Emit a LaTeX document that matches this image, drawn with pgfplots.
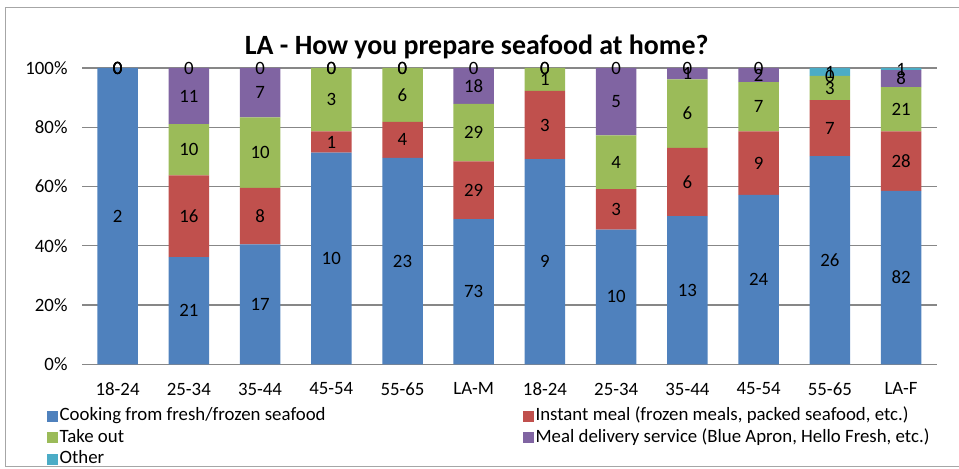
\documentclass[border=0pt]{standalone}
\usepackage{fontspec}
\setmainfont{Carlito}
\usepackage{pgfplots}
\usepackage{pgfplotstable}
\pgfplotsset{compat=1.18}
\definecolor{cBlue}{HTML}{4F81BD}
\definecolor{cRed}{HTML}{C0504D}
\definecolor{cGreen}{HTML}{9BBB59}
\definecolor{cPurple}{HTML}{8064A2}
\definecolor{cAqua}{HTML}{4BACC6}
\definecolor{cGrid}{HTML}{878787}
\definecolor{cBorder}{HTML}{A6A6A6}

% shares (%) of each answer per group
\pgfplotstableread{
x cook inst take deliv other
0 100 0 0 0 0
1 36.21 27.58 17.24 18.97 0
2 40.48 19.04 23.81 16.67 0
3 71.43 7.14 21.43 0 0
4 69.70 12.12 18.18 0 0
5 48.99 19.47 19.46 12.08 0
6 69.23 23.08 7.69 0 0
7 45.45 13.64 18.18 22.73 0
8 50 23.08 23.07 3.85 0
9 57.14 21.43 16.67 4.76 0
10 70.27 18.92 8.11 0 2.70
11 58.57 20 15 5.72 0.71
}\pct

% counts shown as labels, at the middle of each segment
\pgfplotstableread{
x y lab
0 50 2
0 100 0
0 100 0
0 100 0
0 100 0
1 18.10 21
1 50.00 16
1 72.41 10
1 90.52 11
1 100 0
2 20.24 17
2 50.00 8
2 71.43 10
2 91.67 7
2 100 0
3 35.71 10
3 75.00 1
3 89.29 3
3 100 0
3 100 0
4 34.85 23
4 75.76 4
4 90.91 6
4 100 0
4 100 0
5 24.50 73
5 58.72 29
5 78.19 29
5 93.96 18
5 100 0
6 34.62 9
6 80.77 3
6 96.15 1
6 100 0
6 100 0
7 22.73 10
7 52.27 3
7 68.18 4
7 88.64 5
7 100 0
8 25.00 13
8 61.54 6
8 84.62 6
8 98.08 1
8 100 0
9 28.57 24
9 67.86 9
9 86.90 7
9 97.62 2
9 100 0
10 35.14 26
10 79.73 7
10 93.24 3
10 97.30 0
10 98.65 1
11 29.29 82
11 68.57 28
11 86.07 21
11 96.43 8
11 99.64 1
}\labels

\newcommand{\lblfont}{\fontsize{18.9}{22}\selectfont}

\begin{document}
\begin{tikzpicture}
\path[use as bounding box] (0bp,0bp) rectangle (959bp,469bp);
\draw[color=cBorder, line width=0.9bp] (959bp,461.5bp) -- (5bp,461.5bp) -- (5bp,3bp) -- (959bp,3bp);
\node[anchor=base, font=\fontsize{28}{32}\selectfont\bfseries, inner sep=0pt] at (476.7bp,414bp) {LA - How you prepare seafood at home?};

\begin{axis}[
  at={(82bp,104.7bp)}, anchor=south west,
  width=854.7bp, height=296.3bp, scale only axis,
  ybar stacked, bar width=40.5bp,
  xmin=-0.5, xmax=11.5, ymin=0, ymax=100,
  xtick={0,...,11},
  xticklabels={18-24,25-34,35-44,45-54,55-65,LA-M,18-24,25-34,35-44,45-54,55-65,LA-F},
  ytick={0,20,...,100},
  yticklabel={\pgfmathprintnumber{\tick}\%},
  /pgf/number format/assume math mode=true,
  tick label style={font=\lblfont},
  yticklabel style={xshift=-11bp},
  xticklabel style={yshift=-15bp},
  major tick length=0pt,
  ymajorgrids,
  grid style={color=cGrid, line width=1.1bp},
  axis line style={draw=none},
  legend columns=2,
  legend cell align=left,
  legend image code/.code={\fill[#1] (0bp,-5.5bp) rectangle (11bp,5.5bp);},
  legend style={
    draw=none, fill=none, inner sep=0pt,
    at={(-0.041,-0.141)}, anchor=north west,
    font=\lblfont,
    nodes={inner sep=1.5bp, text height=13bp, text depth=4bp},
    row sep=1.6bp,
    /tikz/every even column/.append style={column sep=196bp},
  },
]
\addplot[fill=cBlue, draw=none] table[x=x, y=cook]{\pct};
\addlegendentry{Cooking from fresh/frozen seafood}
\addplot[fill=cRed, draw=none] table[x=x, y=inst]{\pct};
\addlegendentry{Instant meal (frozen meals, packed seafood, etc.)}
\addplot[fill=cGreen, draw=none] table[x=x, y=take]{\pct};
\addlegendentry{Take out}
\addplot[fill=cPurple, draw=none] table[x=x, y=deliv]{\pct};
\addlegendentry{Meal delivery service (Blue Apron, Hello Fresh, etc.)}
\addplot[fill=cAqua, draw=none] table[x=x, y=other]{\pct};
\addlegendentry{Other}
\end{axis}

\begin{axis}[
  at={(82bp,104.7bp)}, anchor=south west,
  width=854.7bp, height=296.3bp, scale only axis,
  hide axis, clip=false,
  xmin=-0.5, xmax=11.5, ymin=0, ymax=100,
]
\addplot[only marks, mark=none, draw=none,
  nodes near coords, point meta=explicit symbolic,
  nodes near coords style={font=\lblfont, text=black, anchor=center, inner sep=0pt}]
  table[x=x, y=y, meta=lab]{\labels};
\end{axis}
\end{tikzpicture}
\end{document}
